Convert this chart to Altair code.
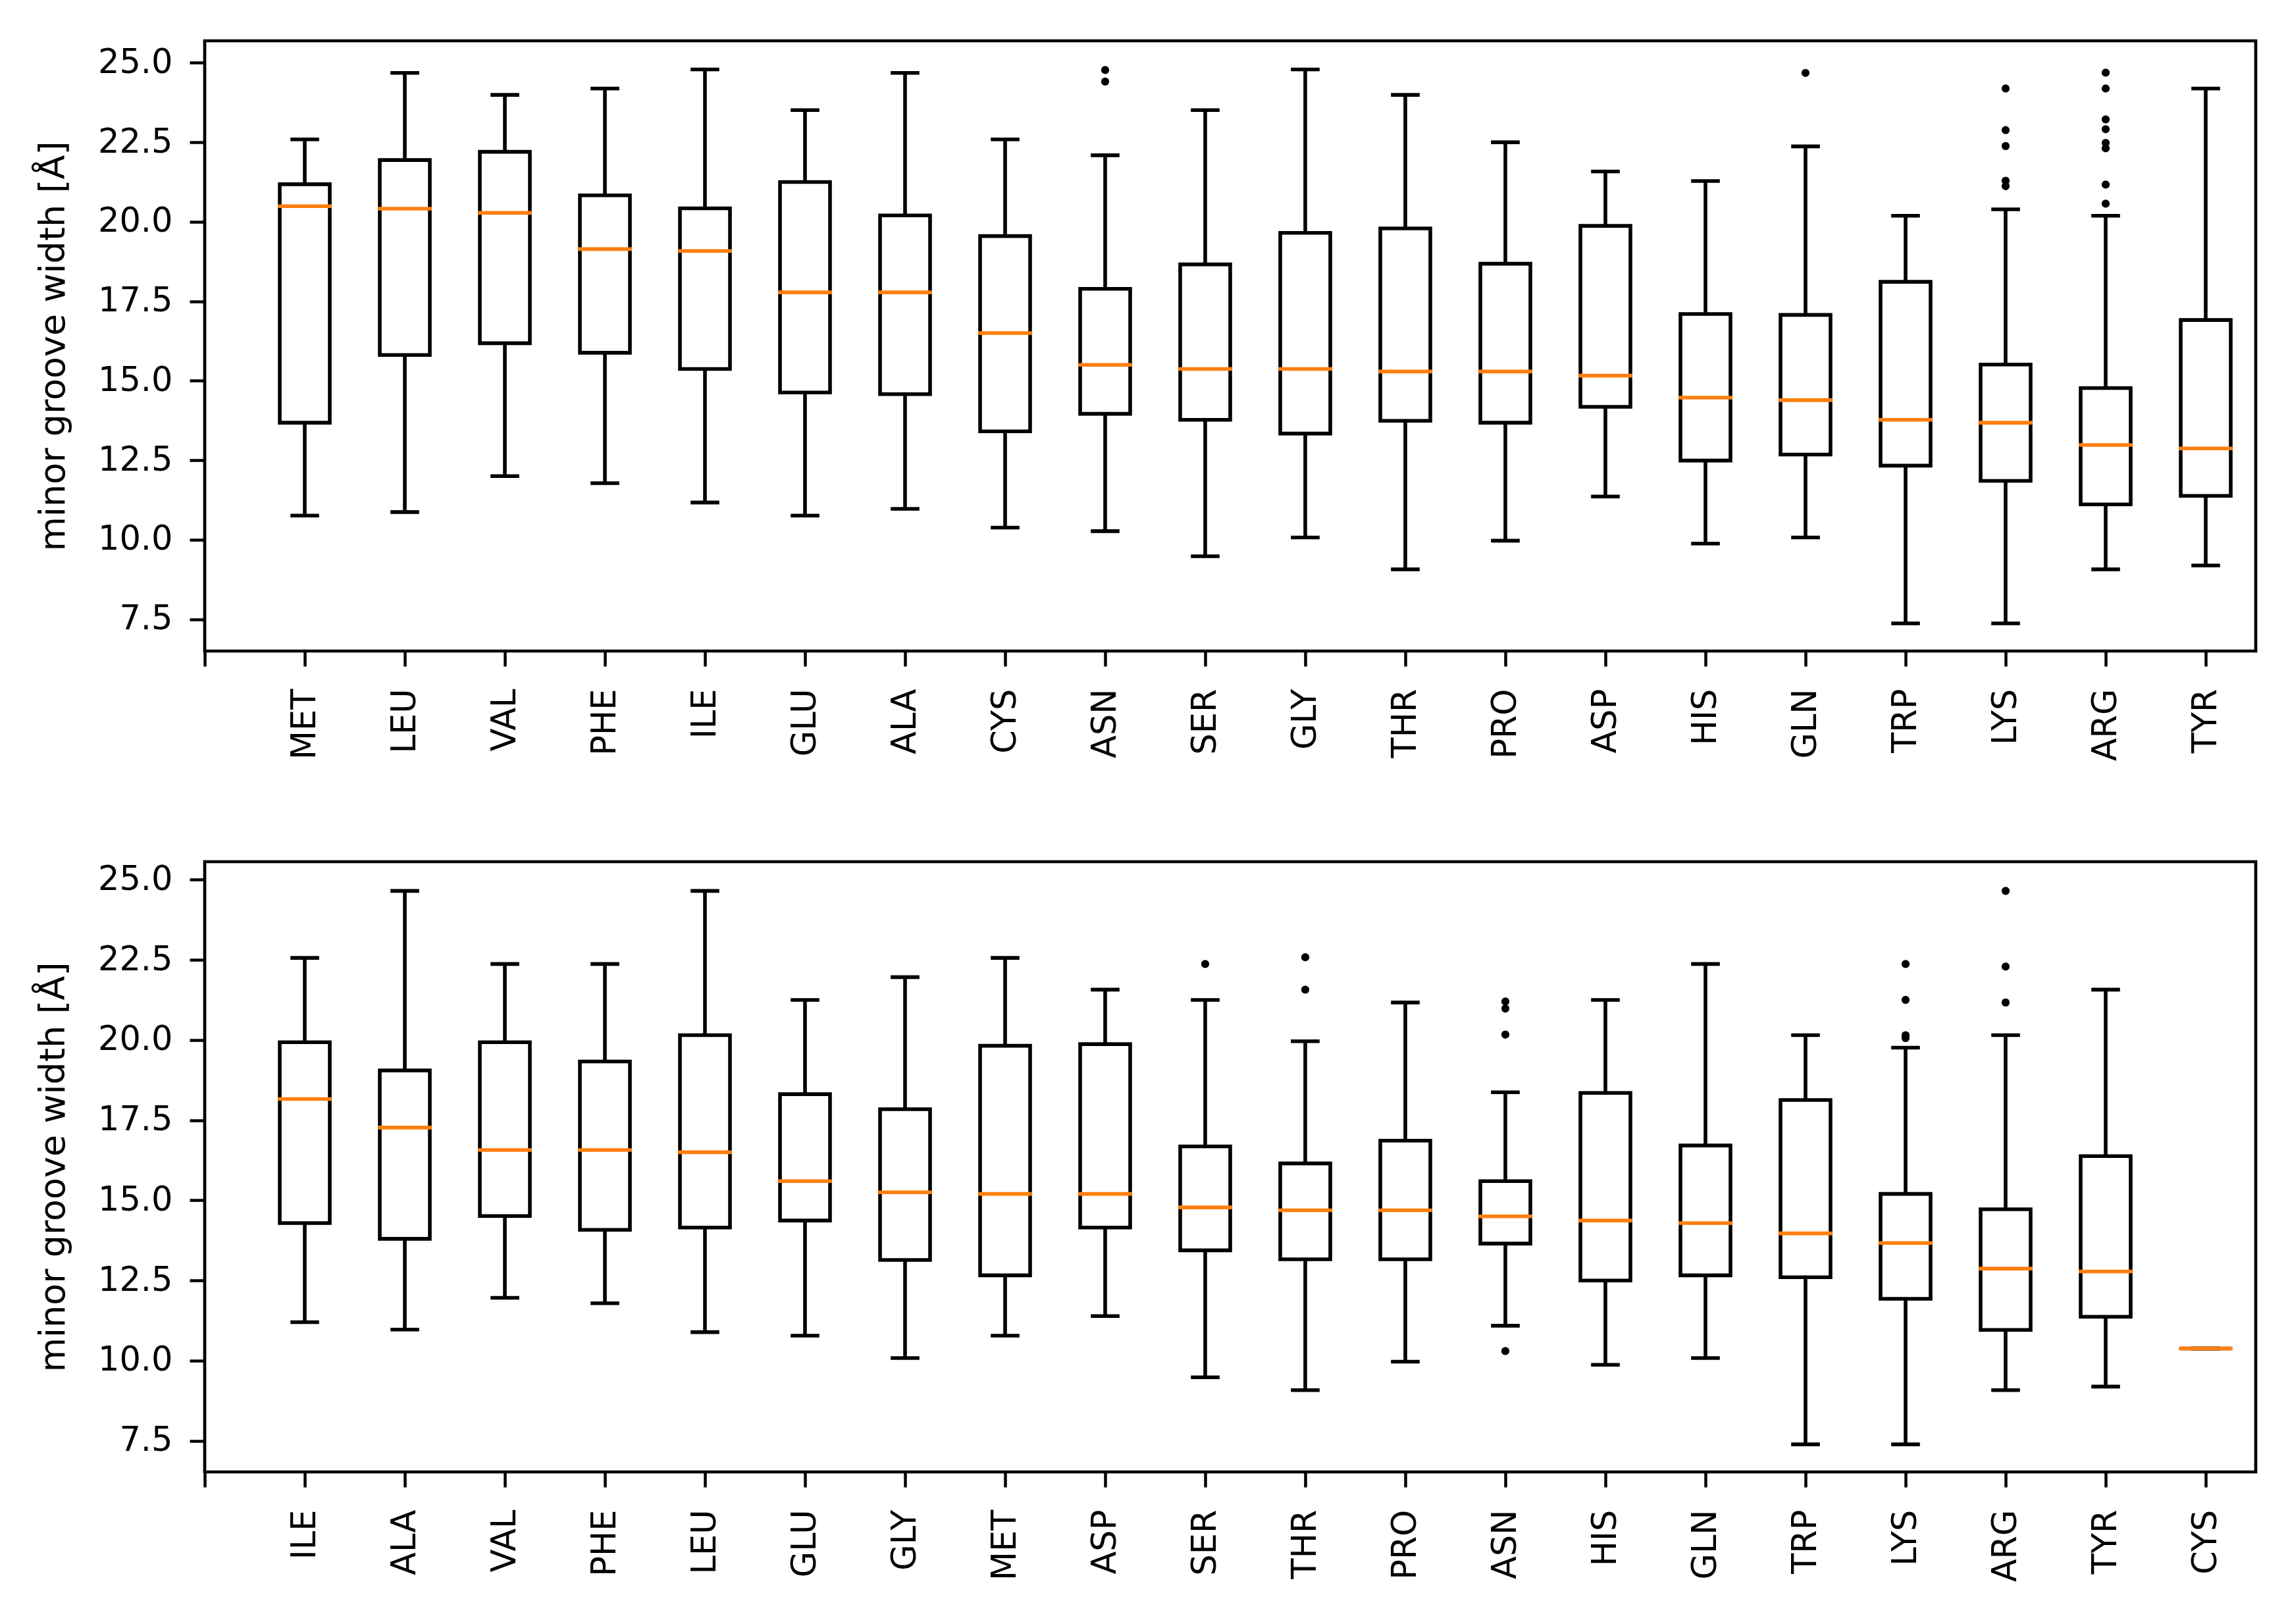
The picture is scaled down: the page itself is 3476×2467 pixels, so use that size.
import altair as alt
import pandas as pd

# ---------------- data ----------------
top_names = ['MET', 'LEU', 'VAL', 'PHE', 'ILE', 'GLU', 'ALA', 'CYS', 'ASN', 'SER',
             'GLY', 'THR', 'PRO', 'ASP', 'HIS', 'GLN', 'TRP', 'LYS', 'ARG', 'TYR']
top_low = [10.76, 10.87, 12.00, 11.78, 11.17, 10.76, 10.97, 10.38, 10.27, 9.48,
           10.07, 9.07, 9.97, 11.36, 9.88, 10.07, 7.37, 7.37, 9.07, 9.19]
top_q1 = [13.68, 15.81, 16.18, 15.88, 15.37, 14.63, 14.58, 13.41, 13.96, 13.77,
          13.34, 13.74, 13.68, 14.18, 12.49, 12.68, 12.33, 11.85, 11.11, 11.38]
top_med = [20.49, 20.41, 20.28, 19.14, 19.08, 17.78, 17.78, 16.50, 15.50, 15.37,
           15.37, 15.29, 15.29, 15.16, 14.47, 14.39, 13.77, 13.68, 12.98, 12.87]
top_q3 = [21.18, 21.94, 22.20, 20.83, 20.42, 21.25, 20.20, 19.55, 17.89, 18.66,
          19.65, 19.79, 18.68, 19.87, 17.10, 17.07, 18.11, 15.51, 14.77, 16.91]
top_high = [22.59, 24.68, 23.99, 24.19, 24.79, 23.51, 24.68, 22.59, 22.09, 23.51,
            24.79, 23.99, 22.50, 21.58, 21.28, 22.37, 20.19, 20.39, 20.19, 24.19]
top_out_names = ['ASN', 'ASN', 'GLN', 'LYS', 'LYS', 'LYS', 'LYS', 'LYS',
                 'ARG', 'ARG', 'ARG', 'ARG', 'ARG', 'ARG', 'ARG', 'ARG']
top_out_vals = [24.77, 24.41, 24.68, 24.19, 22.88, 22.38, 21.29, 21.12,
                24.69, 24.19, 23.22, 22.91, 22.48, 22.31, 21.17, 20.57]

bot_names = ['ILE', 'ALA', 'VAL', 'PHE', 'LEU', 'GLU', 'GLY', 'MET', 'ASP', 'SER',
             'THR', 'PRO', 'ASN', 'HIS', 'GLN', 'TRP', 'LYS', 'ARG', 'TYR', 'CYS']
bot_low = [11.20, 10.97, 11.96, 11.79, 10.89, 10.78, 10.08, 10.78, 11.39, 9.48,
           9.08, 9.97, 11.09, 9.87, 10.08, 7.39, 7.39, 9.08, 9.19, 10.38]
bot_q1 = [14.29, 13.80, 14.51, 14.08, 14.15, 14.37, 13.14, 12.66, 14.15, 13.44,
          13.16, 13.16, 13.65, 12.50, 12.66, 12.60, 11.93, 10.96, 11.37, 10.38]
bot_med = [18.16, 17.27, 16.57, 16.57, 16.50, 15.60, 15.25, 15.20, 15.20, 14.78,
           14.69, 14.69, 14.50, 14.37, 14.29, 13.97, 13.67, 12.87, 12.78, 10.38]
bot_q3 = [19.93, 19.05, 19.93, 19.33, 20.15, 18.31, 17.84, 19.82, 19.87, 16.68,
          16.15, 16.86, 15.60, 18.35, 16.71, 18.13, 15.20, 14.72, 16.38, 10.38]
bot_high = [22.56, 24.65, 22.37, 22.37, 24.65, 21.25, 21.96, 22.56, 21.57, 21.25,
            19.96, 21.17, 18.37, 21.25, 22.37, 20.15, 19.76, 20.15, 21.57, 10.38]
bot_out_names = ['SER', 'THR', 'THR', 'ASN', 'ASN', 'ASN', 'ASN',
                 'LYS', 'LYS', 'LYS', 'LYS', 'ARG', 'ARG', 'ARG']
bot_out_vals = [22.37, 22.58, 21.57, 21.20, 20.98, 20.17, 10.30,
                22.37, 21.25, 20.15, 20.06, 24.65, 22.29, 21.17]

y_ticks = [7.5, 10.0, 12.5, 15.0, 17.5, 20.0, 22.5, 25.0]

ORANGE = '#ff7f0e'
LW = 5.6
W, H = 3116, 927


def panel(names, low, q1, med, q3, high, out_names, out_vals, ydom):
    stats = pd.DataFrame({
        'name': names,
        'pos': list(range(1, len(names) + 1)),
        'low': low, 'q1': q1, 'med': med, 'q3': q3, 'high': high,
    })
    posmap = {n: i + 1 for i, n in enumerate(names)}
    outs = pd.DataFrame({'name': out_names, 'val': out_vals})
    outs['pos'] = outs['name'].map(posmap)

    labels = [''] + names
    label_expr = '[' + ', '.join("'%s'" % s for s in labels) + '][datum.value]'

    xscale = alt.Scale(domain=[0, 20.5], nice=False, zero=False)
    xaxis = alt.Axis(values=list(range(0, 21)), labelExpr=label_expr,
                     labelAngle=270, labelFlush=False, labelOverlap=False,
                     labelPadding=34, title=None)
    yscale = alt.Scale(domain=ydom, nice=False, zero=False)
    yaxis = alt.Axis(values=y_ticks, format='.1f', labelPadding=26,
                     titlePadding=40, title='minor groove width [Å]')

    def X(field):
        return alt.X(field, type='quantitative', scale=xscale, axis=xaxis)

    def Y(field):
        return alt.Y(field, type='quantitative', scale=yscale, axis=yaxis)

    base = alt.Chart(stats).transform_calculate(
        xl='datum.pos - 0.25', xr='datum.pos + 0.25',
        cl='datum.pos - 0.125', cr='datum.pos + 0.125')

    wlo = base.mark_rule(color='black', strokeWidth=LW).encode(
        x=X('pos'), y=Y('low'), y2='q1')
    whi = base.mark_rule(color='black', strokeWidth=LW).encode(
        x=X('pos'), y=Y('q3'), y2='high')
    clo = base.mark_rule(color='black', strokeWidth=LW, strokeCap='square').encode(
        x=X('cl'), x2='cr', y=Y('low'))
    chi = base.mark_rule(color='black', strokeWidth=LW, strokeCap='square').encode(
        x=X('cl'), x2='cr', y=Y('high'))
    box = base.mark_rect(fill='white', fillOpacity=0, stroke='black',
                         strokeWidth=LW).encode(
        x=X('xl'), x2='xr', y=Y('q1'), y2='q3')
    medl = base.mark_rule(color=ORANGE, strokeWidth=LW, strokeCap='square').encode(
        x=X('xl'), x2='xr', y=Y('med'))
    pts = alt.Chart(outs).mark_circle(size=150, color='black', opacity=1).encode(
        x=X('pos'), y=Y('val'))

    return alt.layer(wlo, whi, clo, chi, box, medl, pts).properties(width=W, height=H)


top = panel(top_names, top_low, top_q1, top_med, top_q3, top_high,
            top_out_names, top_out_vals, [6.50, 25.69])
bot = panel(bot_names, bot_low, bot_q1, bot_med, bot_q3, bot_high,
            bot_out_names, bot_out_vals, [6.53, 25.56])

chart = alt.vconcat(top, bot, spacing=147).properties(
    padding={'left': 44, 'top': 51, 'right': 20, 'bottom': 20},
    background='white'
).configure_view(
    stroke='black', strokeWidth=4.7
).configure_axis(
    domain=False, grid=False,
    tickColor='black', tickWidth=4.5, tickSize=23,
    labelFont='DejaVu Sans', labelFontSize=51, labelColor='black',
    titleFont='DejaVu Sans', titleFontSize=54, titleFontWeight='normal',
    titleColor='black'
)

chart.save('out.html', embed_options={'renderer': 'svg', 'actions': False})
